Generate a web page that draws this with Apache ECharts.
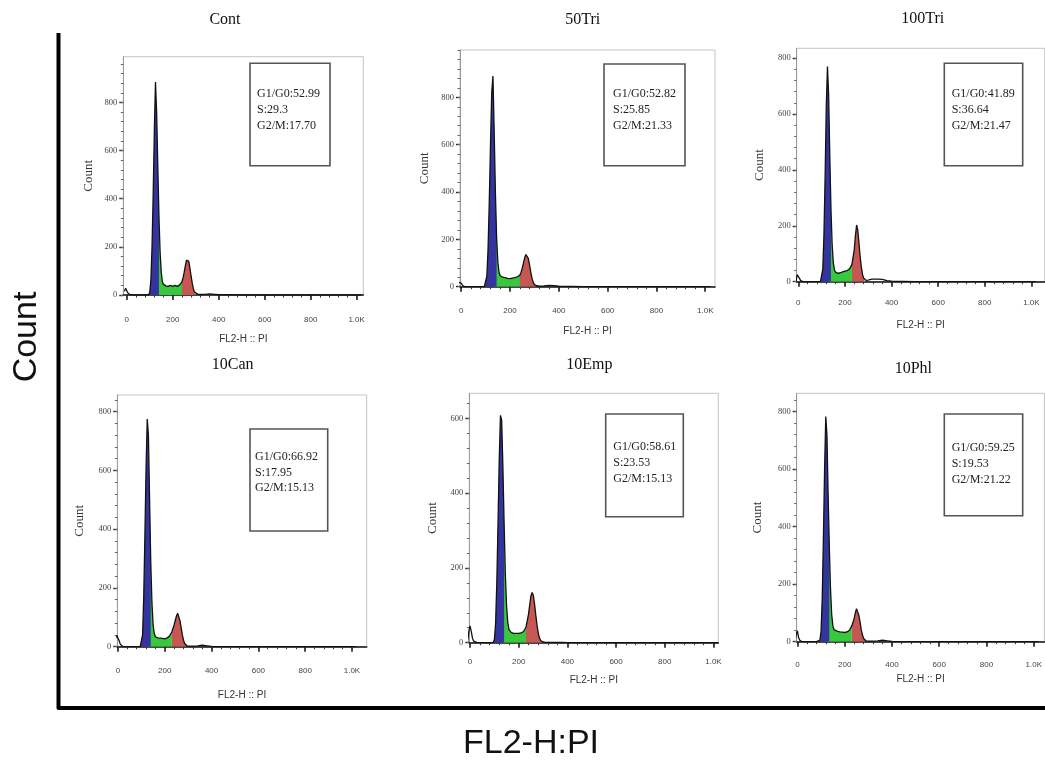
<!DOCTYPE html>
<html><head><meta charset="utf-8">
<script src="https://cdn.jsdelivr.net/npm/echarts@6/dist/echarts.min.js"></script>
<style>html,body{margin:0;padding:0;background:#fff}#c{width:1045px;height:760px}</style>
</head><body><div id="c"></div>
<script>
// ---------------- data ----------------
const panelNames = ['Cont', '50Tri', '100Tri', '10Can', '10Emp', '10Phl'];

// FL2-H channel positions of the histogram points
const fl2Bins = [-10, -5, 0, 5, 10, 15, 20, 30, 50, 80,
  95, 100, 105, 110, 115, 120, 125, 130, 135, 140,
  145, 150, 155, 160, 170, 180, 190, 200, 210, 220,
  230, 240, 245, 250, 255, 260, 265, 270, 275, 280,
  285, 290, 295, 300, 310, 320, 340, 360, 380, 400,
  450, 500, 600, 700, 800, 900, 1000, 1020];

const contCounts = [15, 28, 20, 8, 3, 1, 0, 0, 0, 0,
  1, 10, 60, 200, 420, 680, 885, 760, 540, 330,
  180, 95, 55, 44, 38, 36, 40, 36, 40, 36,
  42, 55, 72, 95, 122, 145, 152, 140, 110, 78,
  48, 25, 12, 6, 3, 2, 3, 5, 3, 1,
  1, 0, 0, 0, 0, 0, 0, 0];
const tri50Counts = [18, 20, 15, 6, 2, 0, 0, 0, 0, 0,
  1, 8, 45, 160, 360, 600, 820, 890, 660, 400,
  210, 105, 60, 46, 40, 38, 35, 34, 36, 38,
  42, 48, 60, 78, 100, 122, 136, 138, 120, 92,
  62, 36, 18, 9, 4, 2, 3, 6, 4, 2,
  1, 0, 0, 0, 0, 0, 0, 0];
const tri100Counts = [0, 25, 32, 12, 4, 1, 0, 0, 0, 0,
  1, 8, 45, 170, 380, 630, 770, 670, 450, 260,
  135, 68, 42, 34, 30, 32, 35, 38, 40, 46,
  62, 115, 165, 203, 185, 140, 92, 55, 28, 13,
  7, 5, 5, 6, 8, 9, 9, 8, 4, 2,
  1, 0, 0, 0, 0, 0, 0, 0];
const can10Counts = [30, 38, 35, 20, 8, 3, 1, 0, 0, 0,
  1, 6, 40, 170, 380, 610, 775, 720, 500, 290,
  150, 75, 45, 34, 30, 29, 28, 27, 30, 36,
  50, 75, 90, 105, 114, 108, 88, 64, 40, 22,
  11, 5, 3, 2, 2, 2, 3, 5, 3, 1,
  0, 0, 0, 0, 0, 0, 0, 0];
const emp10Counts = [0, 30, 45, 30, 12, 4, 1, 0, 0, 0,
  1, 8, 50, 160, 320, 490, 608, 595, 470, 320,
  185, 100, 55, 35, 27, 25, 25, 25, 26, 30,
  42, 75, 100, 125, 134, 127, 104, 75, 48, 27,
  13, 6, 3, 2, 1, 1, 1, 1, 1, 0,
  0, 0, 0, 0, 0, 0, 0, 0];
const phl10Counts = [0, 25, 38, 15, 5, 2, 0, 0, 0, 0,
  5, 35, 150, 360, 600, 783, 720, 510, 330, 185,
  95, 55, 42, 38, 36, 34, 33, 32, 34, 40,
  55, 80, 100, 115, 112, 92, 68, 42, 24, 11,
  5, 3, 2, 2, 2, 2, 3, 5, 3, 1,
  0, 0, 0, 0, 0, 0, 0, 0];
const panelCounts = [contCounts, tri50Counts, tri100Counts, can10Counts, emp10Counts, phl10Counts];

// cell-cycle gates (FL2-H channel ranges) used for the coloured fills
const g1GateLo = [90, 90, 90, 90, 90, 90];
const g1GateHi = [140, 145, 140, 140, 140, 135];
const sGateLo = [130, 135, 130, 130, 130, 125];
const sGateHi = [245, 245, 235, 235, 235, 235];
const g2GateLo = [240, 240, 230, 230, 230, 230];
const g2GateHi = [300, 310, 285, 295, 300, 290];

// percentages shown in the boxes
const g1G0Pct = ['52.99', '52.82', '41.89', '66.92', '58.61', '59.25'];
const sPct = ['29.3', '25.85', '36.64', '17.95', '23.53', '19.53'];
const g2MPct = ['17.70', '21.33', '21.47', '15.13', '15.13', '21.22'];

// tick labels
const xTickValues = [0, 200, 400, 600, 800, 1000];
const xTickLabels = ['0', '200', '400', '600', '800', '1.0K'];
const yTickValues = [0, 200, 400, 600, 800];
const yTickLabels = ['0', '200', '400', '600', '800'];
const minorStep = 40;

// ---------------- layout ----------------
const layouts = [
  {left: 123.3, top: 56.7, w: 240, h: 238.3, xmin: -15, xmax: 1029, ymax: 990, yGap: 28, xGap: 39, xMargin: 21, box: [250, 63.3, 80, 102.4], text: [257, 94.3], title: [225, 20]},
  {left: 460, top: 50, w: 255, h: 236.7, xmin: -5, xmax: 1040, ymax: 1000, yGap: 29, xGap: 40, xMargin: 20, box: [604, 64, 81, 101.7], text: [613, 94.3], title: [582.7, 20]},
  {left: 796.7, top: 48.3, w: 248, h: 233.4, xmin: -7, xmax: 1057, ymax: 835, yGap: 31, xGap: 39, xMargin: 17, box: [944.3, 63.3, 78.4, 102.4], text: [951.7, 94.3], title: [922.7, 18.3]},
  {left: 117.3, top: 395, w: 249.4, h: 251.7, xmin: -3, xmax: 1063, ymax: 857, yGap: 31, xGap: 44, xMargin: 20, box: [250, 429, 77.7, 102], text: [255, 456.7], title: [232.7, 365]},
  {left: 469.3, top: 393.3, w: 249, h: 249.4, xmin: -3, xmax: 1020, ymax: 667, yGap: 30.6, xGap: 33, xMargin: 15, box: [605.7, 414, 77.6, 102.7], text: [613.3, 447.3], title: [589.3, 365]},
  {left: 796.7, top: 393.3, w: 248, h: 248.4, xmin: -3, xmax: 1045, ymax: 864, yGap: 33, xGap: 32.5, xMargin: 19, box: [944.3, 414, 78.4, 101.7], text: [951.7, 448.3], title: [913.3, 368.3]}
];

const colBlue = '#34349f', colGreen = '#38c83c', colRed = '#c65752';
const serif = "'Liberation Serif', 'DejaVu Serif', serif";
const sans = "'Liberation Sans', Arial, sans-serif";

function minorValues(max) {
  const out = [];
  for (let v = 0; v <= max; v += minorStep) out.push(v);
  return out;
}
function pairs(counts, lo, hi) {
  const out = [];
  fl2Bins.forEach((x, i) => { if (x >= lo && x <= hi) out.push([x, counts[i]]); });
  return out;
}

const grids = [], xAxes = [], yAxes = [], series = [], graphics = [];

layouts.forEach((L, k) => {
  grids.push({left: L.left, top: L.top, width: L.w, height: L.h, show: true,
    borderColor: '#c4c4c4', borderWidth: 1, backgroundColor: 'transparent', containLabel: false});
  xAxes.push({type: 'value', gridIndex: k, min: L.xmin, max: L.xmax, position: 'bottom',
    name: 'FL2-H :: PI', nameLocation: 'middle', nameGap: L.xGap,
    nameTextStyle: {fontFamily: sans, fontSize: 10, color: '#333'},
    axisLine: {show: true, onZero: false, lineStyle: {color: '#111', width: 1.6}},
    axisTick: {show: true, customValues: xTickValues, length: 5, lineStyle: {color: '#111', width: 1.5}},
    axisLabel: {show: true, customValues: xTickValues, margin: L.xMargin, fontFamily: sans, fontSize: 8, color: '#444',
      formatter: v => xTickLabels[xTickValues.indexOf(v)]},
    splitLine: {show: false}});
  xAxes.push({type: 'value', gridIndex: k, min: L.xmin, max: L.xmax, position: 'bottom',
    axisLine: {show: false, onZero: false},
    axisTick: {show: true, customValues: minorValues(1020), length: 2.5, lineStyle: {color: '#333', width: 1}},
    axisLabel: {show: false}, splitLine: {show: false}});
  yAxes.push({type: 'value', gridIndex: k, min: 0, max: L.ymax, position: 'left',
    name: 'Count', nameLocation: 'middle', nameGap: L.yGap, nameRotate: 90,
    nameTextStyle: {fontFamily: serif, fontSize: 13, color: '#333'},
    axisLine: {show: true, onZero: false, lineStyle: {color: '#999', width: 1}},
    axisTick: {show: true, customValues: yTickValues, length: 4, lineStyle: {color: '#222', width: 1.4}},
    axisLabel: {show: true, customValues: yTickValues, margin: 6, fontFamily: serif, fontSize: 8.5, color: '#444',
      formatter: v => yTickLabels[yTickValues.indexOf(v)]},
    splitLine: {show: false}});
  yAxes.push({type: 'value', gridIndex: k, min: 0, max: L.ymax, position: 'left',
    axisLine: {show: false, onZero: false},
    axisTick: {show: true, customValues: minorValues(L.ymax), length: 2.5, lineStyle: {color: '#666', width: 1}},
    axisLabel: {show: false}, splitLine: {show: false}});

  const counts = panelCounts[k];
  const base = {type: 'line', xAxisIndex: 2 * k, yAxisIndex: 2 * k, showSymbol: false, symbol: 'none',
    silent: true, animation: false};
  series.push(Object.assign({}, base, {name: panelNames[k] + ' S',
    data: pairs(counts, sGateLo[k], sGateHi[k]),
    lineStyle: {width: 0}, areaStyle: {color: colGreen, opacity: 1}}));
  series.push(Object.assign({}, base, {name: panelNames[k] + ' G1',
    data: pairs(counts, g1GateLo[k], g1GateHi[k]),
    lineStyle: {width: 0}, areaStyle: {color: colBlue, opacity: 1}}));
  series.push(Object.assign({}, base, {name: panelNames[k] + ' G2',
    data: pairs(counts, g2GateLo[k], g2GateHi[k]),
    lineStyle: {width: 0}, areaStyle: {color: colRed, opacity: 1}}));
  series.push(Object.assign({}, base, {name: panelNames[k],
    data: pairs(counts, -100, 2000),
    lineStyle: {color: '#111', width: 1.3}}));

  graphics.push({type: 'text', x: L.title[0], y: L.title[1], silent: true,
    style: {text: panelNames[k], font: '16px ' + serif, fill: '#111',
      textAlign: 'center', textVerticalAlign: 'middle', align: 'center', verticalAlign: 'middle'}});
  graphics.push({type: 'rect', silent: true, shape: {x: L.box[0], y: L.box[1], width: L.box[2], height: L.box[3]},
    style: {fill: 'none', stroke: '#555', lineWidth: 1.6}});
  graphics.push({type: 'text', x: L.text[0], y: L.text[1], silent: true,
    style: {text: 'G1/G0:' + g1G0Pct[k] + '\nS:' + sPct[k] + '\nG2/M:' + g2MPct[k],
      font: '12px ' + serif, fill: '#222', lineHeight: 15.8,
      textAlign: 'left', textVerticalAlign: 'top', align: 'left', verticalAlign: 'top', y: -8}});
});

graphics.push({type: 'polyline', silent: true, shape: {points: [[58.5, 33], [58.5, 708], [1045, 708]]},
  style: {stroke: '#000', lineWidth: 4, fill: 'none', lineJoin: 'round'}});
graphics.push({type: 'text', x: 27, y: 337, rotation: Math.PI / 2, silent: true,
  style: {text: 'Count', font: '34px ' + sans, fill: '#111',
    textAlign: 'center', textVerticalAlign: 'middle', align: 'center', verticalAlign: 'middle'}});
graphics.push({type: 'text', x: 531, y: 744, silent: true,
  style: {text: 'FL2-H:PI', font: '34px ' + sans, fill: '#111',
    textAlign: 'center', textVerticalAlign: 'middle', align: 'center', verticalAlign: 'middle'}});

const chart = echarts.init(document.getElementById('c'), null, {renderer: 'canvas'});
chart.setOption({
  animation: false,
  backgroundColor: '#fff',
  grid: grids, xAxis: xAxes, yAxis: yAxes, series: series,
  graphic: {elements: graphics}
});
</script>
</body></html>
